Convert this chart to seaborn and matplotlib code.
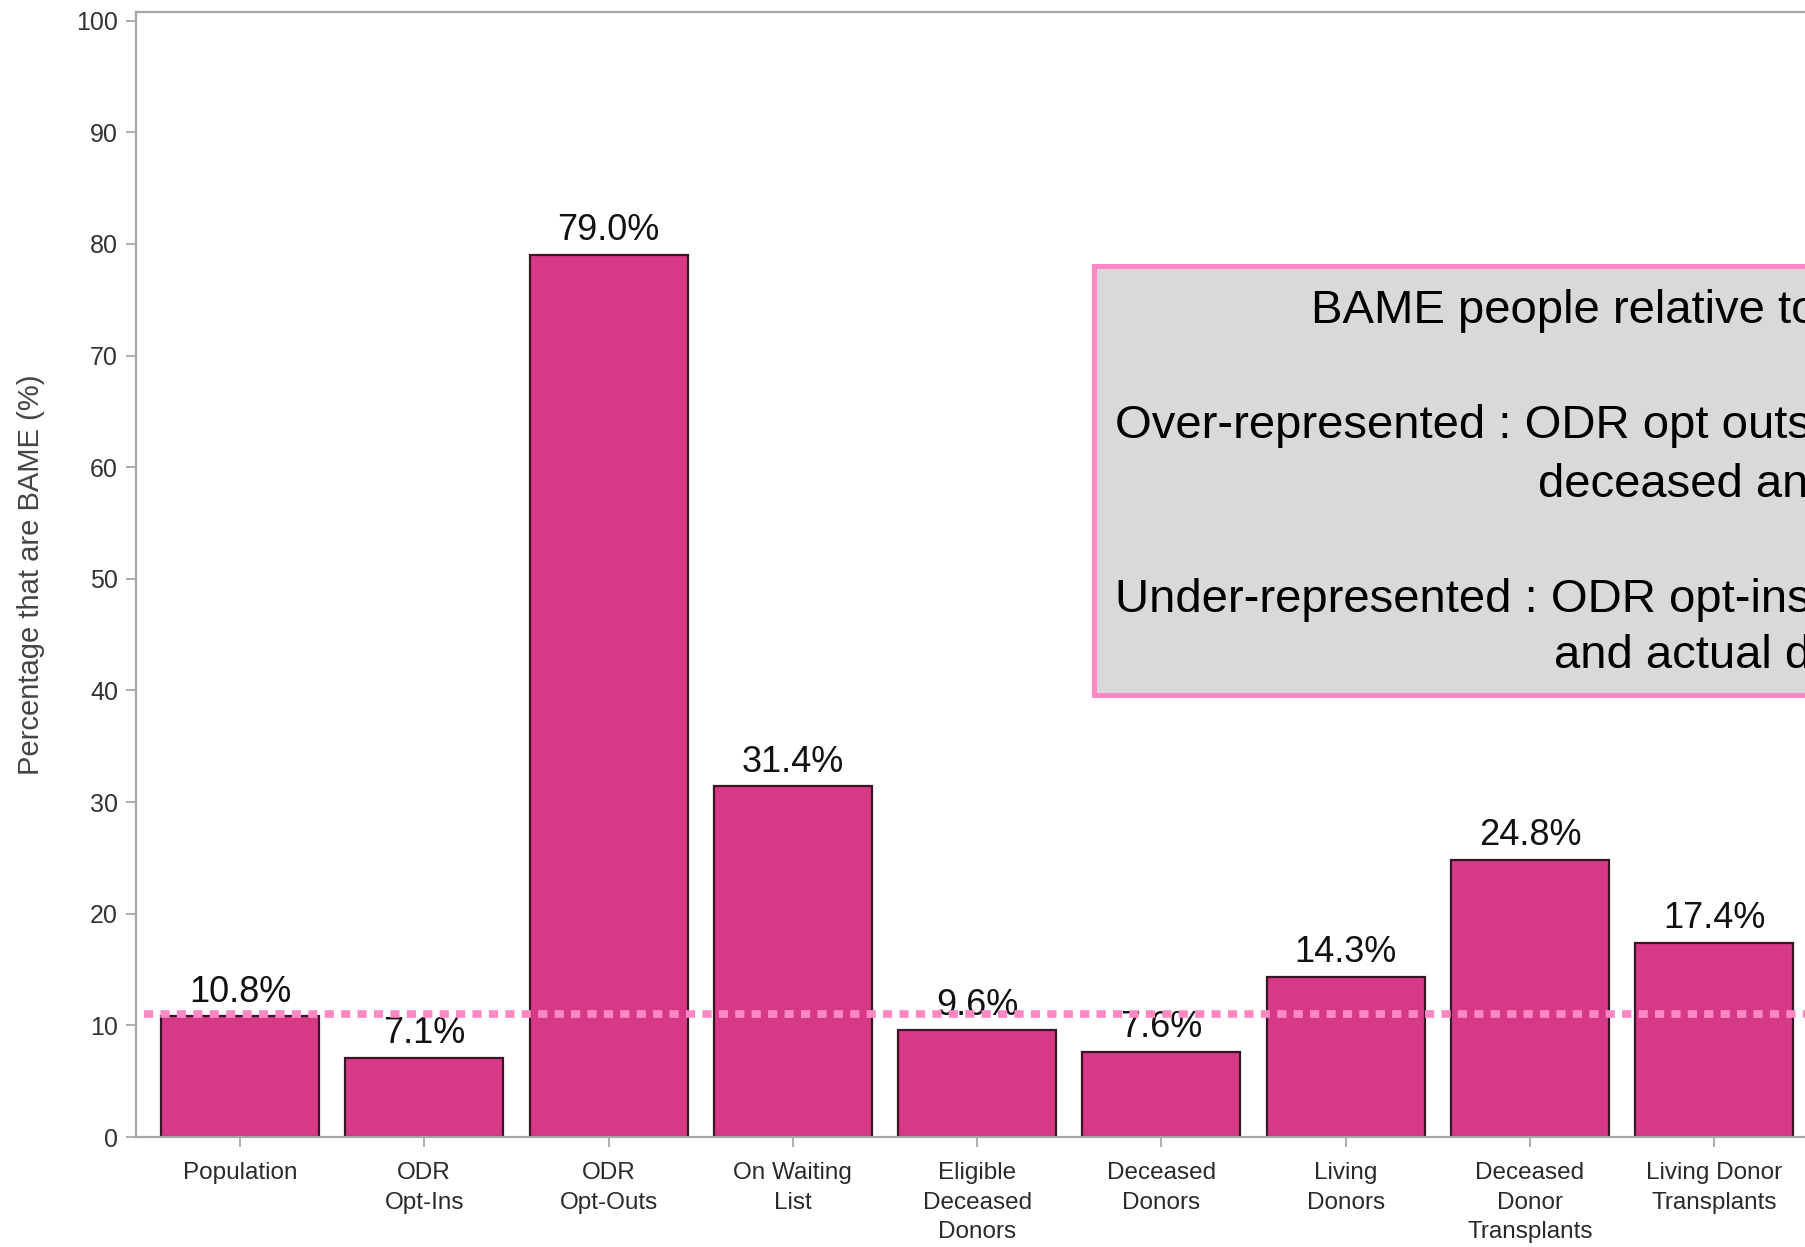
import matplotlib
matplotlib.use("Agg")
import matplotlib.pyplot as plt
import matplotlib.patches as mpatches
import seaborn as sns
import pandas as pd

# ---- data ----
categories = ["Population", "ODR\nOpt-Ins", "ODR\nOpt-Outs", "On Waiting\nList",
              "Eligible\nDeceased\nDonors", "Deceased\nDonors", "Living\nDonors",
              "Deceased\nDonor\nTransplants", "Living Donor\nTransplants"]
values = [10.8, 7.1, 79.0, 31.4, 9.6, 7.6, 14.3, 24.8, 17.4]
reference_level = 11.0
y_ticks = [0, 10, 20, 30, 40, 50, 60, 70, 80, 90, 100]
# the box text is cut by the right edge of the reference picture
box_lines = ["BAME people relative to",
             "Over-represented : ODR opt outs",
             "deceased an",
             "Under-represented : ODR opt-ins",
             "and actual d"]

sns.set_style("white")
plt.rcParams["font.family"] = ["Liberation Sans", "DejaVu Sans"]

BAR = "#D63A87"
PINK = "#FF88C4"
GREY = "#A8A8A8"

fig = plt.figure(figsize=(18.06, 12.47), dpi=100)
ax = fig.add_axes([0.0753, 0.0882, 0.9556, 0.9024])

df = pd.DataFrame({"cat": categories, "val": values})
sns.barplot(data=df, x="cat", y="val", color=BAR, saturation=1, width=0.857,
            edgecolor="#3a1527", linewidth=1.6, ax=ax, zorder=2)

ax.bar_label(ax.containers[0], labels=[f"{v:.1f}%" for v in values],
             padding=5, fontsize=26, color="#111111", zorder=3)

ax.hlines(reference_level, -0.52, 9.6, colors=PINK, linewidth=5.5,
          linestyles=(0, (1.2, 0.95)), zorder=4, capstyle="butt")

ax.set_xlim(-0.564, 8.8)
ax.set_ylim(0, 100.8)
ax.set_yticks(y_ticks)
ax.set_xlabel("")
ax.set_ylabel("Percentage that are BAME (%)", fontsize=21, color="#444444")
ax.yaxis.set_label_coords(-0.0525, 0.5)

ax.tick_params(axis="both", which="major", direction="out", length=7, width=1.3,
               color=GREY, bottom=True, left=True, top=False, right=False)
ax.tick_params(axis="x", pad=11, labelsize=17.5, labelcolor="#2a2a2a")
ax.tick_params(axis="y", pad=6, labelsize=18, labelcolor="#333333")
for lbl in ax.get_xticklabels():
    lbl.set_linespacing(1.45)

for side in ["left", "top", "bottom"]:
    ax.spines[side].set_visible(True)
    ax.spines[side].set_color(GREY)
    ax.spines[side].set_linewidth(1.6)
ax.spines["right"].set_visible(False)

# annotation box (runs past the right edge, as in the reference)
rect = mpatches.Rectangle((1094 / 1806, 1 - 694.5 / 1247), 0.6, (694.5 - 266) / 1247,
                          transform=fig.transFigure, facecolor="#D9D9D9",
                          edgecolor=PINK, linewidth=3.6, zorder=5, clip_on=False)
fig.add_artist(rect)

positions = [(1311, 323), (1115, 438), (1537.7, 497), (1115, 612), (1553.8, 668)]
for (px, py), line in zip(positions, box_lines):
    fig.text(px / 1806, 1 - py / 1247, line, fontsize=34, color="#000000",
             ha="left", va="baseline", zorder=6)

fig.savefig("out.png", dpi=100)
